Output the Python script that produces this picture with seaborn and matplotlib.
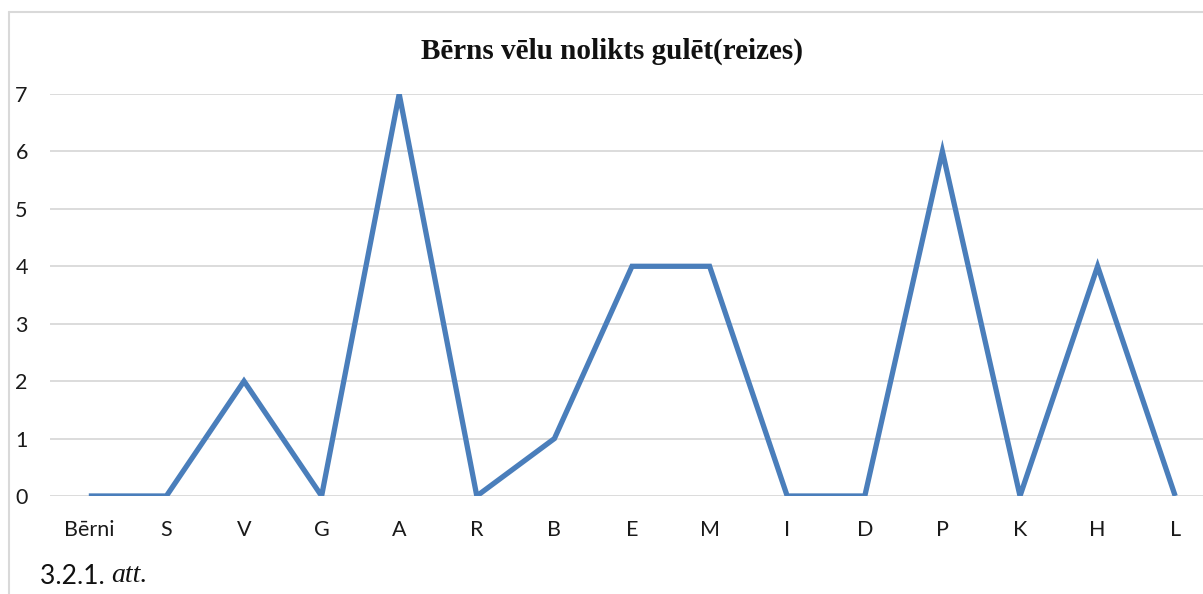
import matplotlib
matplotlib.use("Agg")
import matplotlib.pyplot as plt
import seaborn as sns
import pandas as pd
from matplotlib.lines import Line2D

categories = ["Bērni", "S", "V", "G", "A", "R", "B", "E", "M", "I", "D", "P", "K", "H", "L"]
values = [0, 0, 2, 0, 7, 0, 1, 4, 4, 0, 0, 6, 0, 4, 0]
title = "Bērns vēlu nolikts gulēt(reizes)"
yticks = [0, 1, 2, 3, 4, 5, 6, 7]

sns.set_theme(style="white")
plt.rcParams["font.family"] = ["Lato", "DejaVu Sans"]

W, H = 1203, 594
fig = plt.figure(figsize=(W / 100, H / 100), dpi=100)
ax = fig.add_axes([50 / W, (H - 496) / H, 1164 / W, 402 / H])

df = pd.DataFrame({"cat": categories, "val": values})
df["pos"] = range(len(categories))
sns.lineplot(data=df, x="pos", y="val", ax=ax, color="#4a7ebb", linewidth=3.8,
             sort=False, solid_joinstyle="miter", solid_capstyle="butt")

ax.set_xlim(-0.5, len(categories) - 0.5)
ax.set_ylim(0, 7)
ax.set_xticks(range(len(categories)))
ax.set_xticklabels(categories)
ax.set_yticks(yticks)
ax.set_yticklabels([str(v) for v in yticks])
ax.set_xlabel("")
ax.set_ylabel("")
for s in ax.spines.values():
    s.set_visible(False)
ax.grid(axis="y", color="#d9d9d9", linewidth=1.3)
ax.set_axisbelow(True)
ax.tick_params(axis="x", length=0, pad=17.5, labelsize=15.5, colors="#1a1a1a")
ax.tick_params(axis="y", length=0, pad=16, labelsize=15.5, colors="#1a1a1a")

fig.text(612 / W, 1 - 51 / H, title, ha="center", va="center",
         fontsize=21, fontweight="bold", family=["Liberation Serif"], color="#111111")

# caption
t1 = fig.text(40 / W, 1 - 576 / H, "3.2.1. ", ha="left", va="center", fontsize=19,
              family=["Lato", "DejaVu Sans"], color="#111111")
fig.canvas.draw()
bb = t1.get_window_extent()
fig.text(bb.x1 / W, 1 - 576 / H, "att.", ha="left", va="center", fontsize=20,
         style="italic", family=["Liberation Serif"], color="#111111")

# outer frame (partial)
fig.add_artist(Line2D([9 / W, 9 / W], [0, 1 - 12 / H], transform=fig.transFigure,
                      color="#d9d9d9", linewidth=1.5))
fig.add_artist(Line2D([9 / W, 1], [1 - 12 / H, 1 - 12 / H], transform=fig.transFigure,
                      color="#d9d9d9", linewidth=1.5))

fig.savefig("out.png", dpi=100)
